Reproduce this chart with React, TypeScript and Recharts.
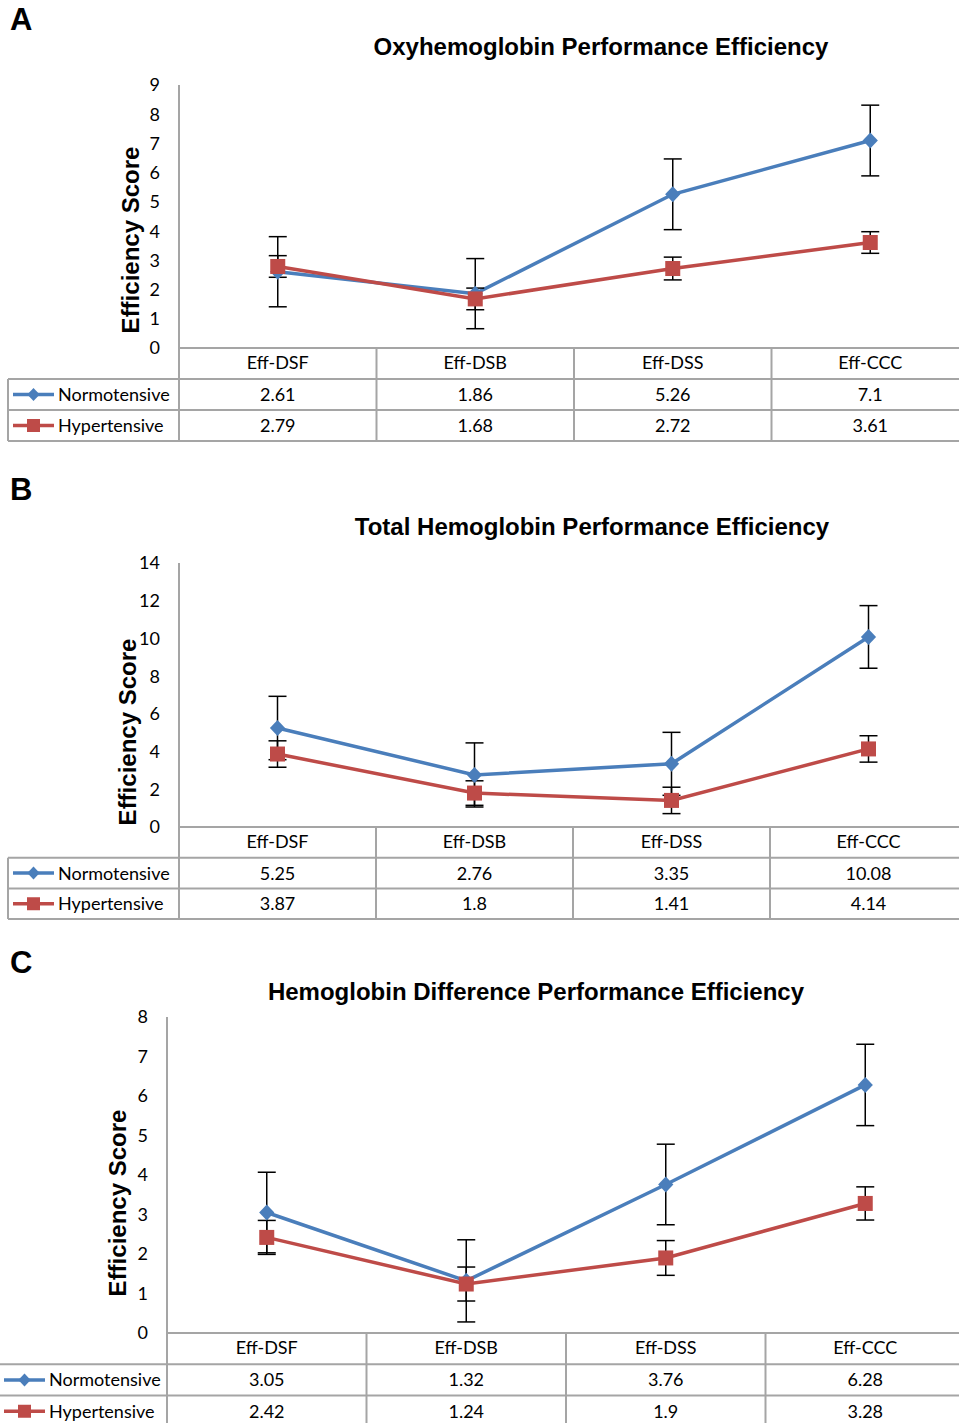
import React from 'react';
import { LineChart, Line, XAxis, YAxis, ErrorBar } from 'recharts';

const categories = ['Eff-DSF', 'Eff-DSB', 'Eff-DSS', 'Eff-CCC'];
const seriesNames = ['Normotensive', 'Hypertensive'];

const oxyNormo = [2.61, 1.86, 5.26, 7.1];
const oxyHyper = [2.79, 1.68, 2.72, 3.61];
const oxyNormoErr = [1.2, 1.2, 1.21, 1.21];
const oxyHyperErr = [0.37, 0.37, 0.39, 0.37];
const oxyTicks = [0, 1, 2, 3, 4, 5, 6, 7, 8, 9];

const totalNormo = [5.25, 2.76, 3.35, 10.08];
const totalHyper = [3.87, 1.8, 1.41, 4.14];
const totalNormoErr = [1.68, 1.7, 1.67, 1.66];
const totalHyperErr = [0.7, 0.65, 0.7, 0.7];
const totalTicks = [0, 2, 4, 6, 8, 10, 12, 14];

const diffNormo = [3.05, 1.32, 3.76, 6.28];
const diffHyper = [2.42, 1.24, 1.9, 3.28];
const diffNormoErr = [1.02, 1.04, 1.02, 1.03];
const diffHyperErr = [0.43, 0.43, 0.44, 0.42];
const diffTicks = [0, 1, 2, 3, 4, 5, 6, 7, 8];

const BLUE = '#4A7EBB';
const RED = '#BE4B48';
const GRID = '#A5A5A5';
const BODY_FONT = 'Lato, sans-serif';
const BODY_SIZE = 18;
const TITLE_FONT = '"Liberation Sans", Arial, sans-serif';
const PAGE_W = 959;

const build = (n: number[], h: number[], ne: number[], he: number[]) =>
  categories.map((cat, i) => ({ cat, n: n[i], h: h[i], ne: ne[i], he: he[i] }));

// layout of each panel in page pixels
const panels = [
  {
    letter: 'A', letterY: 30, title: 'Oxyhemoglobin Performance Efficiency', titleX: 601, titleY: 55,
    axisX: 179, top: 85, bottom: 348, colW: 197.5, rowH: 31, tableLeft: 8, yTitleX: 133, yTitleY: 240,
    ticks: oxyTicks, n: oxyNormo, h: oxyHyper, ne: oxyNormoErr, he: oxyHyperErr,
  },
  {
    letter: 'B', letterY: 500, title: 'Total Hemoglobin Performance Efficiency', titleX: 592, titleY: 535,
    axisX: 179, top: 563, bottom: 827, colW: 197, rowH: 30.7, tableLeft: 8, yTitleX: 130, yTitleY: 732,
    ticks: totalTicks, n: totalNormo, h: totalHyper, ne: totalNormoErr, he: totalHyperErr,
  },
  {
    letter: 'C', letterY: 973, title: 'Hemoglobin Difference Performance Efficiency', titleX: 536, titleY: 1000,
    axisX: 167, top: 1017, bottom: 1333, colW: 199.5, rowH: 31.3, tableLeft: -1, yTitleX: 120, yTitleY: 1203,
    ticks: diffTicks, n: diffNormo, h: diffHyper, ne: diffNormoErr, he: diffHyperErr,
  },
];

const diamondPath = (cx: number, cy: number, r: number) =>
  `M${cx},${cy - r}L${cx + r * 0.95},${cy}L${cx},${cy + r}L${cx - r * 0.95},${cy}Z`;

const DiamondDot = (p: any) => {
  if (p.cx == null || p.cy == null) return <g key={`dd-${p.index}`} />;
  return <path key={`dd-${p.index}`} d={diamondPath(p.cx, p.cy, 8)} fill={BLUE} />;
};

const SquareDot = (p: any) => {
  if (p.cx == null || p.cy == null) return <g key={`sd-${p.index}`} />;
  return <rect key={`sd-${p.index}`} x={p.cx - 7.5} y={p.cy - 7.5} width={15} height={15} fill={RED} />;
};

const Panel = ({ cfg }: { cfg: any }) => {
  const data = build(cfg.n, cfg.h, cfg.ne, cfg.he);
  const marginTop = 20;
  const xAxisH = 31;
  const width = cfg.axisX + cfg.colW * 4;
  const height = cfg.bottom - cfg.top + marginTop + xAxisH;
  const max = cfg.ticks[cfg.ticks.length - 1];
  return (
    <div style={{ position: 'absolute', left: 0, top: cfg.top - marginTop }}>
      <LineChart width={width} height={height} data={data} margin={{ top: marginTop, right: 0, bottom: 0, left: 0 }}>
        <XAxis
          dataKey="cat"
          height={xAxisH}
          padding={{ left: cfg.colW / 2, right: cfg.colW / 2 }}
          axisLine={{ stroke: GRID, strokeWidth: 2 }}
          tickLine={false}
          tickSize={0}
          tickMargin={8}
          tick={{ fill: '#000', fontSize: BODY_SIZE, fontFamily: BODY_FONT }}
          interval={0}
        />
        <YAxis
          width={cfg.axisX}
          domain={[0, max]}
          ticks={cfg.ticks}
          allowDataOverflow
          axisLine={{ stroke: GRID, strokeWidth: 2 }}
          tickLine={false}
          tickSize={0}
          tickMargin={19}
          tick={{ fill: '#000', fontSize: BODY_SIZE, fontFamily: BODY_FONT }}
        />
        <Line
          dataKey="n"
          name={seriesNames[0]}
          stroke={BLUE}
          strokeWidth={3.5}
          dot={(p: any) => <DiamondDot {...p} key={`dn-${p.index}`} />}
          isAnimationActive={false}
        >
          <ErrorBar dataKey="ne" width={9} stroke="#000" strokeWidth={1.5} direction="y" />
        </Line>
        <Line
          dataKey="h"
          name={seriesNames[1]}
          stroke={RED}
          strokeWidth={3.5}
          dot={(p: any) => <SquareDot {...p} key={`dh-${p.index}`} />}
          isAnimationActive={false}
        >
          <ErrorBar dataKey="he" width={9} stroke="#000" strokeWidth={1.5} direction="y" />
        </Line>
      </LineChart>
    </div>
  );
};

const PanelOverlay = ({ cfg }: { cfg: any }) => {
  const { axisX, bottom, colW, rowH, tableLeft } = cfg;
  const tableBottom = bottom + rowH * 3;
  const rows = [
    { name: seriesNames[0], values: cfg.n, color: BLUE, marker: 'diamond' },
    { name: seriesNames[1], values: cfg.h, color: RED, marker: 'square' },
  ];
  const keyStart = tableLeft + 5;
  return (
    <g>
      <text x={10} y={cfg.letterY} fontFamily={TITLE_FONT} fontWeight="bold" fontSize={31}>{cfg.letter}</text>
      <text x={cfg.titleX} y={cfg.titleY} textAnchor="middle" fontFamily={TITLE_FONT} fontWeight="bold" fontSize={24}>
        {cfg.title}
      </text>
      <text
        transform={`translate(${cfg.yTitleX + 6},${cfg.yTitleY}) rotate(-90)`}
        textAnchor="middle"
        fontFamily={TITLE_FONT}
        fontWeight="bold"
        fontSize={24}
      >
        Efficiency Score
      </text>
      {/* table grid */}
      <line x1={axisX} x2={axisX} y1={bottom} y2={tableBottom} stroke={GRID} strokeWidth={2} />
      {[1, 2, 3].map((k) => (
        <line key={`v${k}`} x1={axisX + k * colW} x2={axisX + k * colW} y1={bottom} y2={tableBottom} stroke={GRID} strokeWidth={2} />
      ))}
      {[1, 2, 3].map((k) => (
        <line key={`h${k}`} x1={tableLeft} x2={PAGE_W} y1={bottom + k * rowH} y2={bottom + k * rowH} stroke={GRID} strokeWidth={2} />
      ))}
      <line x1={tableLeft} x2={tableLeft} y1={bottom + rowH} y2={tableBottom} stroke={GRID} strokeWidth={2} />
      {rows.map((r, ri) => {
        const cy = bottom + rowH * (ri + 1.5);
        const mx = keyStart + 20.5;
        return (
          <g key={r.name}>
            <line x1={keyStart} x2={keyStart + 41} y1={cy} y2={cy} stroke={r.color} strokeWidth={3.5} />
            {r.marker === 'diamond' ? (
              <path d={diamondPath(mx, cy, 6.5)} fill={r.color} />
            ) : (
              <rect x={mx - 6.5} y={cy - 6.5} width={13} height={13} fill={r.color} />
            )}
            <text x={keyStart + 45} y={cy + 6.5} fontFamily={BODY_FONT} fontSize={BODY_SIZE}>{r.name}</text>
            {r.values.map((v: number, i: number) => (
              <text key={i} x={axisX + colW * (i + 0.5)} y={cy + 6.5} textAnchor="middle" fontFamily={BODY_FONT} fontSize={BODY_SIZE}>
                {String(v)}
              </text>
            ))}
          </g>
        );
      })}
    </g>
  );
};

const App = () => (
  <div style={{ position: 'absolute', left: 0, top: 0, width: PAGE_W, height: 1423, overflow: 'hidden', background: '#fff' }}>
    {panels.map((cfg) => (
      <Panel key={cfg.letter} cfg={cfg} />
    ))}
    <svg width={PAGE_W} height={1423} style={{ position: 'absolute', left: 0, top: 0, pointerEvents: 'none' }}>
      {panels.map((cfg) => (
        <PanelOverlay key={cfg.letter} cfg={cfg} />
      ))}
    </svg>
  </div>
);

export default App;
